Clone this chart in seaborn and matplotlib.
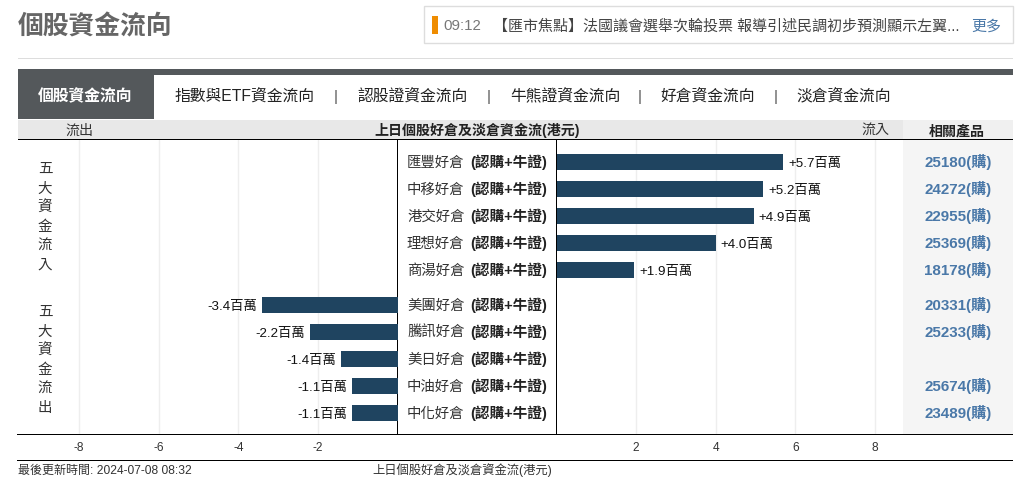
# 個股資金流向 - 好倉及淡倉資金流
import pandas as pd
import seaborn as sns
import matplotlib.pyplot as plt
from matplotlib.patches import Rectangle

sns.set_theme(style="white")
plt.rcParams['font.family'] = ['Liberation Sans', 'Noto Sans CJK TC']

# 資料
in_names = ["匯豐", "中移", "港交", "理想", "商湯"]
in_values = [5.7, 5.2, 4.95, 4.0, 1.95]
in_labels = ["+5.7百萬", "+5.2百萬", "+4.9百萬", "+4.0百萬", "+1.9百萬"]
in_codes = ["25180(購)", "24272(購)", "22955(購)", "25369(購)", "18178(購)"]

out_names = ["美團", "騰訊", "美日", "中油", "中化"]
out_values = [-3.4, -2.2, -1.42, -1.14, -1.14]
out_labels = ["-3.4百萬", "-2.2百萬", "-1.4百萬", "-1.1百萬", "-1.1百萬"]
out_codes = ["20331(購)", "25233(購)", "", "25674(購)", "23489(購)"]

left_ticks = [-8, -6, -4, -2]
right_ticks = [2, 4, 6, 8]

tabs = ["指數與ETF資金流向", "認股證資金流向", "牛熊證資金流向", "好倉資金流向", "淡倉資金流向"]
tab_x = [174, 357, 510, 660, 796]
sep_x = [336, 489, 640, 776]

W, H = 1021, 490
BAR = "#1f4460"
LINK = "#4a78a8"

fig = plt.figure(figsize=(W / 100, H / 100), dpi=100, facecolor="white")


def px_axes(x0, y0, x1, y1):
    # 用像素位置開 axes
    return fig.add_axes([x0 / W, 1 - y1 / H, (x1 - x0) / W, (y1 - y0) / H])


# 底層: 頁面框架及文字
bg = px_axes(0, 0, W, H)
bg.set_xlim(0, W)
bg.set_ylim(H, 0)
bg.axis("off")
bg.set_zorder(0)


def box(x, y, w, h, color, **kw):
    bg.add_patch(Rectangle((x, y), w, h, facecolor=color, edgecolor="none", **kw))


def txt(x, y, s, size=14, color="#333333", weight="normal", ha="left"):
    # 以 baseline 對齊, 粗體細體才不會高低不一
    bg.text(x, y + size * 0.36, s, fontsize=size * 0.72, color=color, weight=weight,
            ha=ha, va="baseline")


txt(18, 25, "個股資金流向", 25.8, "#666666", "bold")
bg.add_patch(Rectangle((423.5, 6.5), 589, 37, facecolor="white", edgecolor="#dddddd", lw=1))
box(432, 16, 6, 18, "#ef8c00")
txt(443, 25, "09:12", 15, "#777777")
txt(493, 25, "【匯市焦點】法國議會選舉次輪投票 報導引述民調初步預測顯示左翼...", 15, "#444444")
txt(971, 25, "更多", 15, LINK)
box(18, 58, 995, 1, "#dddddd")

box(18, 69, 995, 6, "#54585b")
box(18, 75, 136, 44, "#54585b")
txt(38, 96, "個股資金流向", 15.8, "white", "bold")
for x, s in zip(tab_x, tabs):
    txt(x, 96, s, 15.8, "#222222")
for x in sep_x:
    txt(x, 96, "|", 15, "#555555", ha="center")

box(18, 120, 885, 19, "#e8e8e8")
box(903, 120, 110, 19, "#f0f0f0")
box(18, 139, 995, 1.3, "black")
txt(65, 130, "流出", 14, "#333333")
txt(477, 130, "上日個股好倉及淡倉資金流(港元)", 14, "#222222", "bold", ha="center")
txt(861, 130, "流入", 14, "#333333")
txt(957, 130, "相關產品", 14, "#222222", "bold", ha="center")

box(903, 140, 110, 294, "#f5f5f5")
box(17, 434, 996, 1.3, "black")
box(17, 460, 996, 1.3, "black")

# 直排標題
for i, ch in enumerate("五大資金流入"):
    txt(45, 168 + i * 19.2, ch, 14.5, "#333333", ha="center")
for i, ch in enumerate("五大資金流出"):
    txt(45, 311 + i * 19.2, ch, 14.5, "#333333", ha="center")

txt(18, 470, "最後更新時間: 2024-07-08 08:32", 12, "#333333")
txt(372, 470, "上日個股好倉及淡倉資金流(港元)", 12.3, "#333333")


def draw_side(ax, names, values, labels, codes, ticks, x0, first_row):
    df = pd.DataFrame({"name": names, "value": values})
    sns.barplot(data=df, x="value", y="name", orient="y", color=BAR, saturation=1,
                width=16 / 27, linewidth=0, ax=ax, zorder=3)
    ax.set_ylim((434 - first_row) / 27, (140 - first_row) / 27)
    ax.set_xlabel("")
    ax.set_ylabel("")
    ax.set_yticks([])
    ax.set_xticks(ticks)
    ax.set_xticklabels([str(t) for t in ticks], fontsize=8.6, color="#333333")
    ax.tick_params(axis="x", length=0, pad=6)
    ax.grid(axis="x", color="#eeeeee", lw=1)
    ax.set_axisbelow(True)
    ax.patch.set_alpha(0)
    sns.despine(ax=ax, left=True, right=True, top=True, bottom=True)
    ax.set_zorder(1)

    for t in ax.bar_label(ax.containers[0], labels=labels, padding=3.6, fontsize=9.6,
                          color="#111111"):
        t.set_va("center_baseline")

    # 中間的產品名及右邊的相關產品
    for i, name in enumerate(names):
        ax.annotate(name + "好倉", xy=(0, i), xytext=(407 - x0, -5), textcoords="offset pixels",
                    fontsize=10.4, color="#333333", va="baseline", annotation_clip=False)
        ax.annotate("(認購+牛證)", xy=(0, i), xytext=(470 - x0, -5), textcoords="offset pixels",
                    fontsize=10.5, color="#222222", weight="bold", va="baseline", annotation_clip=False)
        ax.annotate(codes[i], xy=(0, i), xytext=(958 - x0, -5), textcoords="offset pixels",
                    fontsize=10.9, color=LINK, weight="bold", ha="center", va="baseline",
                    annotation_clip=False)


# 左邊流出, 右邊流入
UNIT = 39.8
ax_left = px_axes(18, 140, 397.5, 434)
ax_right = px_axes(556.5, 140, 903, 434)
draw_side(ax_left, out_names, out_values, out_labels, out_codes, left_ticks, 397.5, 305)
draw_side(ax_right, in_names, in_values, in_labels, in_codes, right_ticks, 556.5, 162)
ax_left.set_xlim(-(397.5 - 18) / UNIT, 0)
ax_right.set_xlim(0, (903 - 556.5) / UNIT)

# 中欄兩條直線
box(397, 140, 1.2, 294, "black", zorder=5)
box(556, 140, 1.2, 294, "black", zorder=5)

fig.savefig("out.png", dpi=100)
